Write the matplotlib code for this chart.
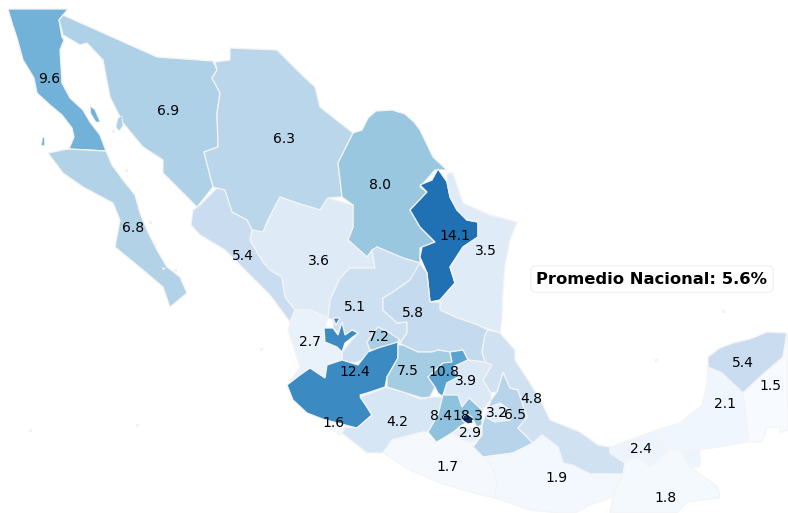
import matplotlib
matplotlib.use("Agg")
import matplotlib.pyplot as plt
from matplotlib.patches import Polygon
from matplotlib.colors import Normalize

# rates per state
states = ["BC", "BCS", "Son", "Chih", "Coah", "NL", "Tam", "Sin", "Dgo", "Zac", "SLP", "Nay",
          "Ags", "Jal", "Col", "Mich", "Gto", "Qro", "Hgo", "Mex", "CDMX", "Mor", "Tlax", "Pue",
          "Ver", "Gro", "Oax", "Chis", "Tab", "Camp", "Yuc", "QR"]
values = [9.6, 6.8, 6.9, 6.3, 8.0, 14.1, 3.5, 5.4, 3.6, 5.1, 5.8, 2.7,
          7.2, 12.4, 1.6, 4.2, 7.5, 10.8, 3.9, 8.4, 18.3, 2.9, 3.2, 6.5,
          4.8, 1.7, 1.9, 1.8, 2.4, 2.1, 5.4, 1.5]
promedio = 5.6

# label anchor for each state (image pixels)
label_xy = [(49, 79), (133, 228), (168, 111), (284, 139), (380, 185), (455, 236), (486, 251),
            (243, 256), (319, 261), (355, 307), (413, 313), (310, 342), (379, 337), (355, 372),
            (334, 423), (397, 422), (408, 371), (444, 372), (466, 381), (441, 416), (468, 416),
            (470, 433), (497, 413), (515, 415), (531, 399), (447, 467), (557, 478), (666, 498),
            (641, 449), (725, 404), (743, 363), (770, 386)]

# outlines (image pixels)
outlines = {
    "BC": [(8, 9), (68, 9), (59, 20), (62, 37), (64, 40), (60, 50), (62, 83), (70, 98), (83, 110), (90, 122),
           (100, 135), (106, 151), (69, 149), (74, 137), (72, 128), (62, 115), (50, 105), (37, 93), (34, 78),
           (23, 60), (17, 38), (12, 23)],
    "BCS": [(48, 153), (68, 149), (106, 151), (112, 165), (123, 180), (135, 195), (140, 213), (147, 230),
            (157, 250), (167, 267), (180, 277), (187, 293), (170, 307), (163, 287), (143, 270), (115, 247),
            (120, 220), (113, 203), (83, 187), (63, 173)],
    "Son": [(59, 20), (63, 15), (157, 57), (213, 61), (217, 70), (212, 78), (220, 93), (217, 113), (218, 147),
            (204, 152), (213, 187), (197, 207), (180, 190), (163, 173), (163, 160), (143, 147), (123, 123),
            (110, 97), (103, 60), (87, 43), (80, 45), (63, 35)],
    "Chih": [(215, 62), (230, 60), (230, 48), (277, 50), (300, 73), (315, 87), (320, 107), (353, 133), (338, 163),
             (342, 197), (328, 198), (320, 210), (297, 203), (280, 197), (268, 220), (263, 232), (252, 230),
             (247, 220), (232, 212), (222, 190), (213, 187), (204, 152), (218, 147), (217, 113), (220, 93),
             (212, 78), (217, 70)],
    "Coah": [(353, 133), (362, 130), (368, 118), (376, 111), (392, 110), (405, 114), (414, 122), (420, 130),
             (433, 157), (447, 170), (435, 170), (420, 187), (427, 192), (410, 210), (420, 227), (435, 242),
             (420, 248), (420, 263), (403, 258), (377, 247), (367, 257), (348, 240), (353, 227), (353, 205),
             (342, 197), (338, 163)],
    "NL": [(438, 169), (447, 182), (450, 197), (457, 210), (467, 220), (478, 222), (478, 237), (463, 247),
           (450, 267), (455, 283), (440, 300), (430, 302), (427, 273), (420, 257), (422, 247), (435, 242),
           (420, 227), (410, 210), (427, 192), (420, 185), (432, 180)],
    "Tam": [(447, 173), (453, 173), (463, 203), (490, 215), (517, 222), (510, 240), (505, 265), (503, 290),
            (502, 320), (500, 333), (478, 325), (455, 317), (440, 310), (440, 300), (455, 283), (450, 267),
            (463, 247), (478, 237), (478, 222), (467, 220), (457, 210), (450, 197), (447, 182)],
    "Sin": [(217, 188), (225, 190), (232, 212), (247, 220), (252, 230), (250, 240), (263, 262), (270, 270),
            (282, 277), (285, 297), (295, 310), (290, 322), (270, 295), (250, 275), (225, 250), (200, 235),
            (191, 225), (193, 210), (200, 205)],
    "Dgo": [(280, 197), (297, 203), (320, 210), (328, 198), (353, 205), (353, 227), (348, 240), (367, 257),
            (372, 250), (375, 268), (350, 268), (340, 278), (330, 300), (328, 318), (310, 310), (295, 310),
            (285, 297), (282, 277), (270, 270), (263, 262), (250, 240), (252, 230), (263, 232), (268, 220)],
    "Zac": [(350, 268), (375, 268), (372, 250), (377, 247), (403, 258), (420, 263), (417, 272), (410, 280),
            (393, 292), (383, 298), (383, 310), (397, 323), (407, 322), (407, 333), (400, 343), (390, 333),
            (378, 327), (367, 342), (370, 350), (367, 358), (355, 363), (342, 362), (342, 352), (358, 333),
            (352, 330), (345, 335), (342, 323), (338, 333), (333, 328), (333, 320), (328, 318), (330, 300),
            (340, 278)],
    "SLP": [(383, 298), (393, 292), (410, 280), (420, 263), (427, 273), (430, 302), (440, 302), (440, 310),
            (455, 317), (478, 325), (488, 330), (485, 335), (482, 352), (485, 362), (468, 360), (463, 350),
            (450, 352), (438, 350), (432, 352), (418, 352), (403, 345), (400, 343), (407, 333), (407, 322),
            (397, 323), (383, 310)],
    "Nay": [(290, 322), (295, 310), (310, 310), (328, 318), (325, 328), (325, 342), (337, 347), (342, 352),
            (342, 360), (327, 365), (325, 378), (310, 368), (300, 375), (287, 385), (300, 367), (288, 330)],
    "Ags": [(367, 342), (378, 327), (390, 333), (400, 340), (385, 350), (370, 350)],
    "Jal": [(287, 385), (300, 375), (310, 368), (325, 378), (327, 365), (342, 360), (358, 365), (368, 352),
            (378, 348), (398, 342), (398, 358), (387, 377), (385, 387), (367, 393), (360, 395), (367, 407),
            (372, 415), (357, 428), (345, 425), (325, 420), (307, 413), (293, 400)],
    "JalN": [(324, 328), (333, 328), (338, 335), (342, 322), (345, 335), (352, 330), (358, 333), (345, 343),
             (342, 352), (337, 347), (325, 342)],
    "JalT": [(333, 318), (340, 318), (336, 325)],
    "Col": [(325, 420), (345, 425), (345, 432), (340, 435), (330, 428)],
    "Mich": [(360, 397), (387, 387), (403, 392), (420, 399), (433, 397), (443, 397), (438, 415), (428, 432),
             (423, 432), (392, 440), (383, 453), (367, 453), (342, 433), (345, 427), (357, 428), (372, 415),
             (367, 407)],
    "Gto": [(403, 345), (418, 352), (432, 352), (438, 350), (450, 352), (452, 362), (428, 377), (435, 387),
            (430, 397), (422, 398), (403, 392), (387, 387), (387, 377), (398, 358), (398, 345)],
    "Qro": [(450, 352), (463, 350), (468, 360), (453, 367), (458, 377), (447, 383), (443, 397), (438, 393),
            (435, 387), (428, 377), (443, 363), (452, 362)],
    "Hgo": [(468, 360), (485, 362), (492, 365), (483, 380), (491, 393), (491, 400), (482, 410), (469, 398),
            (462, 407), (458, 395), (443, 395), (447, 383), (458, 377), (453, 367)],
    "Mex": [(443, 395), (458, 395), (462, 407), (469, 398), (482, 410), (482, 425), (477, 427), (473, 420),
            (462, 425), (452, 433), (437, 443), (428, 432), (438, 415)],
    "CDMX": [(463, 416), (467, 414), (472, 417), (473, 423), (468, 424), (463, 421)],
    "Mor": [(462, 428), (477, 427), (482, 427), (482, 435), (473, 443), (462, 440), (452, 433)],
    "Pue": [(482, 425), (491, 400), (497, 392), (503, 372), (510, 388), (518, 390), (527, 417), (518, 428),
            (533, 443), (513, 453), (483, 457), (473, 447), (482, 435)],
    "Tlax": [(487, 408), (500, 403), (510, 410), (510, 420), (495, 422), (487, 418)],
    "Ver": [(488, 330), (500, 333), (515, 350), (515, 360), (530, 383), (542, 403), (550, 420), (580, 432),
            (598, 445), (610, 447), (610, 453), (625, 463), (623, 474), (590, 474), (572, 465), (563, 463),
            (558, 447), (542, 435), (533, 443), (518, 428), (527, 417), (518, 390), (510, 388), (503, 372),
            (497, 392), (491, 393), (483, 380), (492, 365), (485, 362), (482, 352), (485, 335)],
    "Gro": [(383, 453), (392, 440), (423, 432), (435, 443), (452, 433), (462, 440), (473, 443), (473, 447),
            (483, 457), (490, 463), (497, 480), (495, 498), (470, 492), (440, 483), (410, 470)],
    "Oax": [(483, 457), (513, 453), (533, 443), (542, 435), (558, 447), (563, 463), (572, 465), (590, 474),
            (623, 474), (613, 497), (590, 505), (575, 513), (560, 513), (530, 510), (495, 498), (497, 480),
            (490, 463)],
    "Chis": [(625, 463), (633, 458), (642, 460), (650, 467), (670, 448), (680, 450), (690, 467), (718, 487),
             (720, 498), (687, 502), (677, 513), (610, 513), (613, 497), (623, 474)],
    "Tab": [(610, 447), (657, 430), (663, 447), (680, 450), (700, 450), (700, 467), (690, 467), (680, 450),
            (670, 448), (650, 467), (642, 460), (633, 458), (625, 463), (610, 453)],
    "Camp": [(657, 430), (680, 423), (702, 405), (707, 383), (708, 367), (722, 373), (743, 393), (748, 442),
             (700, 450), (680, 450), (663, 447)],
    "Yuc": [(708, 357), (720, 348), (733, 343), (750, 339), (767, 332), (787, 333), (783, 357), (760, 377),
            (743, 393), (722, 373), (708, 367)],
    "QR": [(787, 333), (788, 430), (780, 433), (780, 427), (767, 427), (762, 442), (749, 442), (743, 393),
           (760, 377), (783, 357)],
}
# small islands that belong to a state
islands = {
    "BC": [[(90, 106), (95, 110), (100, 122), (96, 122), (91, 114)], [(42, 137), (44, 137), (44, 145), (41, 145)]],
    "Son": [[(118, 118), (122, 116), (123, 126), (119, 131), (116, 127)]],
}
specks = [(137, 425), (261, 349), (30, 430), (723, 311), (656, 360), (113, 131), (126, 170), (150, 222),
          (155, 245), (163, 268), (175, 270)]

norm = Normalize(min(values), max(values))
cmap = plt.get_cmap("Blues")
colours = dict(zip(states, [cmap(norm(v)) for v in values]))
colours["JalN"] = colours["Jal"]
colours["JalT"] = colours["Jal"]

fig = plt.figure(figsize=(7.88, 5.13), dpi=100)
ax = fig.add_axes([0, 0, 1, 1])
ax.set_xlim(0, 788)
ax.set_ylim(513, 0)
ax.axis("off")

for name, pts in outlines.items():
    ax.add_patch(Polygon(pts, closed=True, facecolor=colours[name], edgecolor="#f4f4f4", linewidth=0.9))
for name, parts in islands.items():
    for pts in parts:
        ax.add_patch(Polygon(pts, closed=True, facecolor=colours[name], edgecolor="#f4f4f4", linewidth=0.5))
ax.scatter([p[0] for p in specks], [p[1] for p in specks], s=3, facecolor="white", edgecolor="#e4e4e4", linewidth=0.4)

for (x, y), v in zip(label_xy, values):
    ax.text(x, y, f"{v:.1f}", fontsize=10, ha="center", va="center", color="black")

ax.text(652, 279, f"Promedio Nacional: {promedio}%", fontsize=11.8, fontweight="bold", ha="center", va="center",
        bbox=dict(boxstyle="round,pad=0.35", facecolor="white", edgecolor="#eeeeee", linewidth=0.8))

fig.savefig("out.png", dpi=100)
